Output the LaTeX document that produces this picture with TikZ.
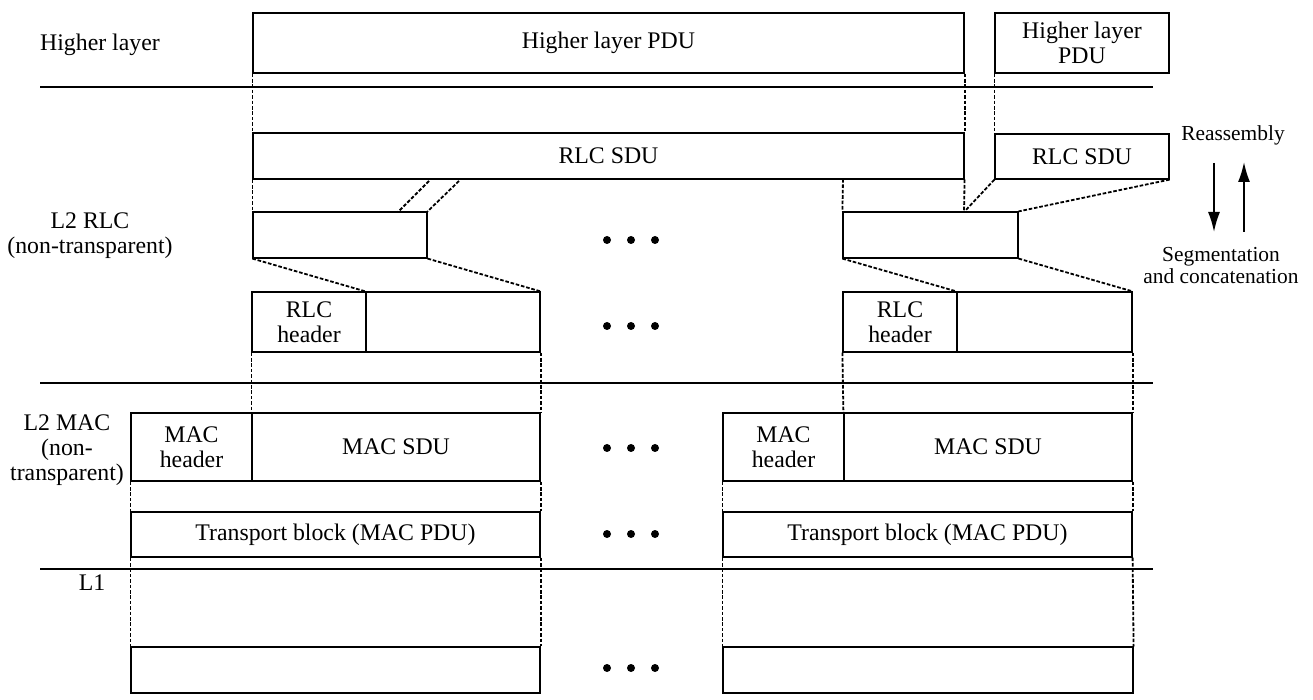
\documentclass[tikz,border=0pt]{standalone}
\usepackage{fontspec}
\setmainfont{Liberation Serif}
\usetikzlibrary{fit,arrows.meta}
\begin{document}
\begin{tikzpicture}[x=0.5pt,y=-0.5pt,
  every node/.style={font=\fontsize{11.9}{12.5}\selectfont, align=center},
  box/.style={draw, line width=0.6pt, inner sep=0pt},
  layer/.style={line width=1.3pt},
  dsh/.style={line width=0.9pt, dash pattern=on 1.8pt off 0.9pt},
  dot/.style={circle, fill, inner sep=0pt, minimum size=4pt},
  small/.style={font=\fontsize{10.7}{11}\selectfont},
  arr/.style={line width=0.9pt, -{Latex[length=10pt,width=6pt]}}]
\useasboundingbox (0,0) rectangle (1313,700);

% boxes
\node[box, fit={(253,13)(964,73)}] (hlpdu) {};
\node[box, fit={(995,13)(1169,73)}] (hlpdu2) {};
\node[box, fit={(253,133)(964,179)}] (rlcsdu) {};
\node[box, fit={(995,134)(1169,179)}] (rlcsdu2) {};
\node[box, fit={(253,212)(427,258)}] (seg1) {};
\node[box, fit={(843,212)(1018,258)}] (seg2) {};
\node[box, fit={(252,292)(366,352)}] (rlch1) {};
\node[box, fit={(366,292)(540,352)}] (rlcd1) {};
\node[box, fit={(843,292)(957,352)}] (rlch2) {};
\node[box, fit={(957,292)(1132,352)}] (rlcd2) {};
\node[box, fit={(131,413)(252,481)}] (mach1) {};
\node[box, fit={(252,413)(540,481)}] (macsdu1) {};
\node[box, fit={(723,413)(844,481)}] (mach2) {};
\node[box, fit={(844,413)(1132,481)}] (macsdu2) {};
\node[box, fit={(131,512)(540,557)}] (tb1) {};
\node[box, fit={(723,512)(1132,557)}] (tb2) {};
\node[box, fit={(131,647)(540,693)}] (l1b1) {};
\node[box, fit={(723,647)(1133,693)}] (l1b2) {};

% box texts
\node (thlpdu) at (hlpdu.center) {Higher layer PDU};
\node (thlpdu2) at (hlpdu2.center) {Higher layer\\PDU};
\node (trlcsdu) at (rlcsdu.center) {RLC SDU};
\node (trlcsdu2) at (rlcsdu2.center) {RLC SDU};
\node (trlch1) at (rlch1.center) {RLC\\header};
\node (trlch2) at (rlch2.center) {RLC\\header};
\node (tmach1) at (mach1.center) {MAC\\header};
\node (tmach2) at (mach2.center) {MAC\\header};
\node (tmacsdu1) at (macsdu1.center) {MAC SDU};
\node (tmacsdu2) at (macsdu2.center) {MAC SDU};
\node (ttb1) at (tb1.center) {Transport block (MAC PDU)};
\node (ttb2) at (tb2.center) {Transport block (MAC PDU)};

% layer labels
\node (lhl) at (100,45) {Higher layer};
\node (lrlc) at (90,236) {L2 RLC\\(non-transparent)};
\node (lmac) at (67,450) {L2 MAC\\(non-\\transparent)};
\node (ll1) at (92,583) {L1};
\node[small] (lre) at (1233,135) {Reassembly};
\node[small] (lseg) at (1221,266) {Segmentation\\and concatenation};

% layer boundaries
\coordinate (ha) at (40,87);  \coordinate (hb) at (1153,87);
\coordinate (ma) at (40,383); \coordinate (mb) at (1153,383);
\coordinate (pa) at (40,569); \coordinate (pb) at (1153,569);
\draw[layer] (ha) -- (hb);
\draw[layer] (ma) -- (mb);
\draw[layer] (pa) -- (pb);

% dashed mapping lines
\draw[dsh] (hlpdu.south west) -- (rlcsdu.north west);
\draw[dsh] (hlpdu.south east) -- (rlcsdu.north east);
\draw[dsh] (hlpdu2.south west) -- (rlcsdu2.north west);

\coordinate (c1a) at (429,181); \coordinate (c1b) at (398,212);
\coordinate (c2a) at (459,181);
\draw[dsh] (rlcsdu.south west) -- (seg1.north west);
\draw[dsh] (c1a) -- (c1b);
\draw[dsh] (c2a) -- (seg1.north east);

\coordinate (c3a) at (843,179); \coordinate (c4) at (964,212);
\draw[dsh] (c3a) -- (seg2.north west);
\draw[dsh] (rlcsdu.south east) -- (c4);
\draw[dsh] (rlcsdu2.south west) -- (c4);
\draw[dsh] (rlcsdu2.south east) -- (seg2.north east);

\draw[dsh] (seg1.south west) -- (rlcd1.north west);
\draw[dsh] (seg1.south east) -- (rlcd1.north east);
\draw[dsh] (seg2.south west) -- (rlcd2.north west);
\draw[dsh] (seg2.south east) -- (rlcd2.north east);

\draw[dsh] (rlch1.south west) -- (macsdu1.north west);
\draw[dsh] (rlcd1.south east) -- (macsdu1.north east);
\draw[dsh] (rlch2.south west) -- (macsdu2.north west);
\draw[dsh] (rlcd2.south east) -- (macsdu2.north east);

\draw[dsh] (mach1.south west) -- (tb1.north west);
\draw[dsh] (macsdu1.south east) -- (tb1.north east);
\draw[dsh] (mach2.south west) -- (tb2.north west);
\draw[dsh] (macsdu2.south east) -- (tb2.north east);

\draw[dsh] (tb1.south west) -- (l1b1.north west);
\draw[dsh] (tb1.south east) -- (l1b1.north east);
\draw[dsh] (tb2.south west) -- (l1b2.north west);
\draw[dsh] (tb2.south east) -- (l1b2.north east);

% ellipsis dots
\foreach \r/\yy in {1/240,2/326,3/448,4/534,5/668}{
  \foreach \c/\xx in {1/607,2/631,3/655}{
    \node[dot] (d\r\c) at (\xx,\yy) {};
  }
}

% direction arrows
\coordinate (dn1) at (1214,163); \coordinate (dn2) at (1214,232);
\coordinate (up1) at (1244,232); \coordinate (up2) at (1244,162);
\draw[arr] (dn1) -- (dn2);
\draw[arr] (up1) -- (up2);
\end{tikzpicture}
\end{document}
